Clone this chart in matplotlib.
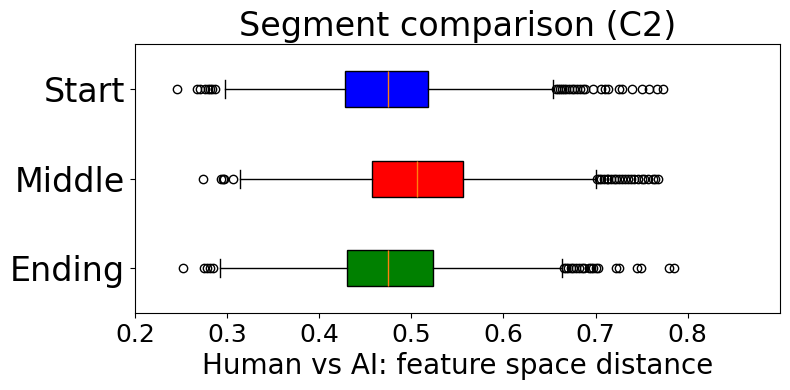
import matplotlib
matplotlib.use("Agg")
import matplotlib.pyplot as plt

# Categories (bottom to top)
labels = ["Ending", "Middle", "Start"]
colors = ["green", "red", "blue"]

# Box statistics
q1 = [0.430, 0.457, 0.428]
med = [0.475, 0.506, 0.475]
q3 = [0.524, 0.556, 0.518]
whislo = [0.292, 0.314, 0.298]
whishi = [0.664, 0.700, 0.654]

# Outliers
fliers_ending = [0.252, 0.275, 0.278, 0.281, 0.285,
                 0.666, 0.668, 0.670, 0.673, 0.676, 0.679, 0.682, 0.685, 0.688,
                 0.693, 0.695, 0.697, 0.700, 0.703,
                 0.722, 0.726, 0.745, 0.749, 0.780, 0.785]
fliers_middle = [0.274, 0.293, 0.295, 0.297, 0.306,
                 0.702, 0.704, 0.706, 0.709, 0.712, 0.714, 0.717, 0.720, 0.722,
                 0.726, 0.729, 0.732, 0.735, 0.738, 0.742, 0.746, 0.750, 0.753,
                 0.757, 0.762, 0.765, 0.768]
fliers_start = [0.246, 0.267, 0.271, 0.276, 0.279, 0.281, 0.284, 0.287,
                0.657, 0.659, 0.661, 0.664, 0.666, 0.668, 0.671, 0.674, 0.677,
                0.680, 0.683, 0.686, 0.689, 0.697, 0.706, 0.710, 0.714,
                0.726, 0.729, 0.740, 0.750, 0.758, 0.767, 0.773]
fliers = [fliers_ending, fliers_middle, fliers_start]

title = "Segment comparison (C2)"
xlabel = "Human vs AI: feature space distance"

stats = []
for i in range(3):
    stats.append(dict(label=labels[i], q1=q1[i], med=med[i], q3=q3[i],
                      whislo=whislo[i], whishi=whishi[i], fliers=fliers[i]))

fig = plt.figure(figsize=(7.9, 3.9), dpi=100)
ax = fig.add_axes([0.171, 0.197, 0.816, 0.689])
bp = ax.bxp(stats, vert=False, patch_artist=True, widths=0.4)
for patch, c in zip(bp["boxes"], colors):
    patch.set_facecolor(c)
    patch.set_edgecolor("black")

ax.set_xlim(0.2, 0.9)
ax.set_xticks([0.2, 0.3, 0.4, 0.5, 0.6, 0.7, 0.8])
ax.tick_params(axis="x", labelsize=18)
ax.tick_params(axis="y", labelsize=24)
ax.set_xlabel(xlabel, fontsize=20)
ax.set_title(title, fontsize=24)

fig.savefig("out.png", dpi=100)
